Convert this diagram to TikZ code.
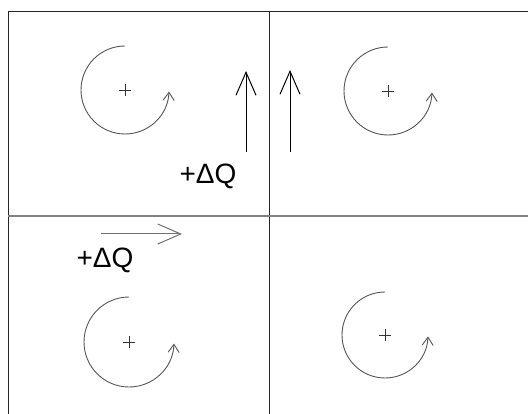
\documentclass[tikz,border=0pt]{standalone}
\usepackage{fontspec}
\setmainfont{Liberation Sans}
\usetikzlibrary{arrows.meta}
\definecolor{circgray}{HTML}{555555}
\definecolor{divgray}{HTML}{808080}
\definecolor{arrgray}{HTML}{707070}
\tikzset{
  frameline/.style={line width=1pt, black!85},
  divline/.style={line width=1.3pt, divgray},
  rotarc/.style={line width=0.9pt, circgray, -{Straight Barb[length=8pt,width=11pt,line width=0.9pt]}},
  qarrow/.style={line width=1pt, -{Straight Barb[length=23pt,width=20pt,line width=1pt]}},
  crossmark/.style={line width=0.8pt, black!80},
  qlabel/.style={font=\fontsize{28}{32}\selectfont, inner sep=0pt}
}
\begin{document}
\begin{tikzpicture}[x=1pt,y=-1pt]
\useasboundingbox (0,0) rectangle (528,414);
% frame
\coordinate (tl) at (8,12);
\coordinate (tr) at (528,12);
\coordinate (bl) at (8,414);
\coordinate (vt) at (269,12);
\coordinate (vb) at (269,414);
\coordinate (hl) at (8,216);
\coordinate (hr) at (528,216);
\draw[frameline] (bl) -- (tl) -- (tr);
\draw[frameline] (vt) -- (vb);
\draw[divline] (hl) -- (hr);
% rotation centres
\coordinate (c1) at (125,90);
\coordinate (c2) at (388,91);
\coordinate (c3) at (129,342);
\coordinate (c4) at (385,335);
\foreach \c/\r in {c1/44,c2/44,c3/45,c4/43}{
  \draw[crossmark] ([xshift=-6pt]\c) -- ([xshift=6pt]\c);
  \draw[crossmark] ([yshift=-6pt]\c) -- ([yshift=6pt]\c);
  \draw[rotarc] ([yshift=\r pt]\c) arc[start angle=90, end angle=358, radius=\r pt];
}
% force arrows
\coordinate (u1s) at (246,152);
\coordinate (u1e) at (246,71);
\coordinate (u2s) at (290,152);
\coordinate (u2e) at (290,70);
\coordinate (hs) at (101,234);
\coordinate (he) at (182,234);
\draw[qarrow] (u1s) -- (u1e);
\draw[qarrow] (u2s) -- (u2e);
\draw[qarrow, arrgray] (hs) -- (he);
% labels
\node[qlabel] (q1) at (208,176) {+ΔQ};
\node[qlabel] (q2) at (105,260) {+ΔQ};
\end{tikzpicture}
\end{document}
